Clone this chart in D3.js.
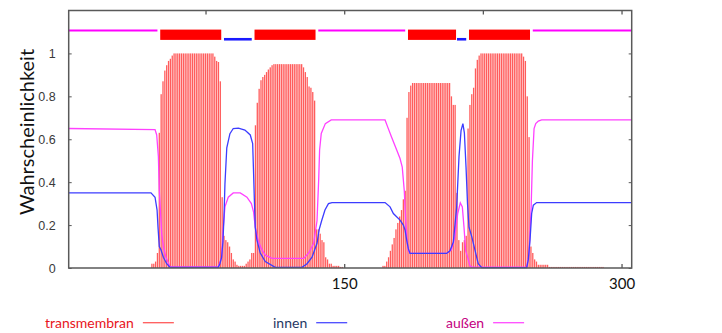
<!DOCTYPE html>
<html>
<head>
<meta charset="utf-8">
<script src="https://cdn.jsdelivr.net/npm/d3@7"></script>
<style>
  body { margin: 0; background: #fff; }
  svg { display: block; }
</style>
</head>
<body>
<svg id="chart" width="722" height="333"></svg>
<script>
// per-residue TM probability, residue 1..305
const transmembran = [
  0, 0, 0, 0, 0, 0, 0, 0, 0, 0,
  0, 0, 0, 0, 0, 0, 0, 0, 0, 0,
  0, 0, 0, 0, 0, 0, 0, 0, 0, 0,
  0, 0, 0, 0, 0, 0, 0, 0, 0, 0,
  0, 0, 0, 0, 0, 0.02, 0.02, 0.03, 0.07, 0.63,
  0.81, 0.87, 0.92, 0.945, 0.965, 0.975, 0.99, 1, 1, 1,
  1, 1, 1, 1, 1, 1, 1, 1, 1, 1,
  1, 1, 1, 1, 1, 1, 1, 1, 1, 0.985,
  0.965, 0.96, 0.87, 0.33, 0.15, 0.13, 0.12, 0.1, 0.07, 0.04,
  0.03, 0.015, 0.01, 0.01, 0.01, 0.01, 0.02, 0.03, 0.04, 0.07,
  0.07, 0.665, 0.77, 0.835, 0.875, 0.89, 0.9, 0.913, 0.925, 0.935,
  0.945, 0.95, 0.95, 0.95, 0.95, 0.95, 0.95, 0.95, 0.95, 0.95,
  0.95, 0.95, 0.95, 0.95, 0.95, 0.95, 0.95, 0.935, 0.913, 0.89,
  0.846, 0.84, 0.82, 0.78, 0.18, 0.18, 0.16, 0.13, 0.12, 0.05,
  0.04, 0.02, 0.02, 0.01, 0.01, 0.01, 0.01, 0.005, 0.005, 0,
  0, 0, 0, 0, 0, 0, 0, 0, 0, 0,
  0, 0, 0, 0, 0, 0, 0, 0, 0, 0,
  0.01, 0.01, 0.03, 0.05, 0.08, 0.11, 0.14, 0.18, 0.21, 0.24,
  0.27, 0.32, 0.36, 0.7, 0.82, 0.85, 0.862, 0.862, 0.862, 0.862,
  0.862, 0.862, 0.862, 0.862, 0.862, 0.862, 0.862, 0.862, 0.862, 0.862,
  0.862, 0.862, 0.862, 0.862, 0.862, 0.862, 0.862, 0.8, 0.76, 0.76,
  0.35, 0.13, 0.08, 0.12, 0.13, 0.15, 0.65, 0.76, 0.81, 0.84,
  0.93, 0.97, 0.99, 1, 1, 1, 1, 1, 1, 1,
  1, 1, 1, 1, 1, 1, 1, 1, 1, 1,
  1, 1, 1, 1, 1, 1, 0.985, 0.965, 0.8, 0.61,
  0.1, 0.07, 0.04, 0.03, 0.015, 0.015, 0.015, 0.015, 0.015, 0.015,
  0.005, 0.005, 0.005, 0.005, 0.005, 0.005, 0.005, 0.005, 0.005, 0.005,
  0.005, 0.005, 0.005, 0.005, 0.005, 0.005, 0.005, 0.005, 0.005, 0.005,
  0.005, 0.005, 0.005, 0.005, 0.005, 0.005, 0.005, 0.005, 0.005, 0.005,
  0, 0, 0, 0, 0, 0, 0, 0, 0, 0,
  0, 0, 0, 0, 0
];

// [residue, probability]
const innen = [
  [1, 0.35], [45.5, 0.35], [47.7, 0.33], [48.8, 0.27], [49.3, 0.19], [50, 0.1],
  [50.9, 0.085], [52.2, 0.05], [54, 0.02], [55.8, 0.003], [81.9, 0.003], [82.8, 0.02],
  [83.7, 0.05], [84.4, 0.12], [85, 0.24], [85.5, 0.39], [86.5, 0.56], [88.2, 0.626],
  [90, 0.65], [92.8, 0.652], [96.3, 0.643], [99.2, 0.62], [100.5, 0.58], [101, 0.44],
  [101.4, 0.32], [101.9, 0.19], [102.8, 0.13], [104.6, 0.07], [107.3, 0.03], [112.7, 0.003],
  [127.2, 0.003], [129.9, 0.02], [132.6, 0.05], [135.3, 0.115], [136.5, 0.18], [137.8, 0.22],
  [139.6, 0.27], [141.5, 0.3], [143.4, 0.305], [172.1, 0.305], [174.8, 0.285], [176.6, 0.254],
  [180.2, 0.223], [182, 0.2], [182.9, 0.177], [183.8, 0.13], [184.7, 0.09], [185.6, 0.068],
  [205.4, 0.068], [207.2, 0.08], [209, 0.12], [210.8, 0.28], [212.1, 0.52], [213.2, 0.64],
  [214.2, 0.673], [215, 0.63], [215.9, 0.47], [216.7, 0.3], [217.5, 0.19], [219, 0.146],
  [220.7, 0.084], [222.5, 0.02], [224.4, 0.002], [248.7, 0.002], [249.6, 0.04], [250.5, 0.13],
  [251.4, 0.254], [252.3, 0.293], [254.1, 0.305], [305.5, 0.305]
];

const aussen = [
  [1, 0.65], [47.7, 0.645], [48.6, 0.62], [49.5, 0.52], [50, 0.36], [50.8, 0.24],
  [51.3, 0.16], [52.2, 0.1], [53.6, 0.05], [55.8, 0.005], [81.9, 0.005], [83.7, 0.05],
  [84.6, 0.19], [85.5, 0.285], [87.3, 0.33], [90, 0.35], [93.8, 0.35], [97.4, 0.33],
  [99.8, 0.3], [101, 0.26], [101.9, 0.19], [103.4, 0.13], [105.2, 0.09], [107.3, 0.06],
  [111, 0.045], [128.1, 0.045], [130.8, 0.07], [133.5, 0.115], [135.3, 0.22], [136.2, 0.41],
  [136.7, 0.55], [137.6, 0.627], [139.8, 0.673], [143, 0.69], [172.1, 0.69], [173.4, 0.66],
  [175.6, 0.61], [178.4, 0.55], [180.2, 0.51], [181.4, 0.47], [182.5, 0.36], [183.3, 0.22],
  [184, 0.13], [184.7, 0.08], [185.6, 0.068], [205.4, 0.068], [208, 0.085], [209.9, 0.145],
  [211.4, 0.254], [212.8, 0.304], [213.9, 0.285], [214.8, 0.19], [215.7, 0.08], [216.8, 0.05],
  [218, 0.01], [219.1, 0.004], [248.7, 0.004], [250, 0.07], [251.1, 0.28], [251.8, 0.5],
  [252.7, 0.65], [253.6, 0.673], [255, 0.685], [256.8, 0.69], [305.5, 0.69]
];

// predicted topology: [start, end, type]
const topology = [
  [1, 49, "aussen"], [51, 83, "tm"], [85, 100, "innen"], [102, 134, "tm"],
  [136, 183, "aussen"], [185, 210, "tm"], [211, 216, "innen"], [218, 250, "tm"],
  [252, 305.5, "aussen"]
];

const yTicks = [0, 0.2, 0.4, 0.6, 0.8, 1];
const xTopTicks = [75, 150, 225, 300];
const xBottomTicks = [150, 300];
const legendItems = [
  { key: "transmembran", label: "transmembran", text: "#e8141c", line: "#ff5a5a" },
  { key: "innen", label: "innen", text: "#1f3864", line: "#4a4aff" },
  { key: "aussen", label: "außen", text: "#c4007f", line: "#ff4cff" }
];

const svg = d3.select("#chart");
const x = d3.scaleLinear().domain([1, 305.5]).range([68.7, 631.7]);
const y = d3.scaleLinear().domain([0, 1.2]).range([268, 10.5]);

// bars
svg.append("g")
  .selectAll("rect")
  .data(transmembran.map((v, i) => ({ r: i + 1, v })).filter(d => d.v > 0))
  .join("rect")
  .attr("x", d => x(d.r) - 0.65)
  .attr("width", 1.3)
  .attr("y", d => y(d.v))
  .attr("height", d => y(0) - y(d.v))
  .attr("fill", "#ff5c5c");

// probability lines
const line = d3.line().x(d => x(d[0])).y(d => y(d[1]));
svg.append("path").datum(aussen)
  .attr("d", line).attr("fill", "none")
  .attr("stroke", "#ff40ff").attr("stroke-width", 1.3);
svg.append("path").datum(innen)
  .attr("d", line).attr("fill", "none")
  .attr("stroke", "#3c3cff").attr("stroke-width", 1.3);

// topology bar on top
const topo = svg.append("g");
topology.forEach(([s, e, t]) => {
  if (t === "tm") {
    topo.append("rect")
      .attr("x", x(s - 0.5)).attr("width", x(e + 0.5) - x(s - 0.5))
      .attr("y", y(1.111)).attr("height", y(1.063) - y(1.111))
      .attr("fill", "#ff0000");
  } else {
    const v = t === "aussen" ? 1.107 : 1.066;
    topo.append("line")
      .attr("x1", x(s)).attr("x2", x(e))
      .attr("y1", y(v)).attr("y2", y(v))
      .attr("stroke", t === "aussen" ? "#ff00ff" : "#1a1aff")
      .attr("stroke-width", t === "aussen" ? 2 : 2.6);
  }
});

// frame and ticks
const axisColor = "#595959";
svg.append("rect")
  .attr("x", x(1)).attr("y", y(1.2))
  .attr("width", x(305.5) - x(1)).attr("height", y(0) - y(1.2))
  .attr("fill", "none").attr("stroke", axisColor).attr("stroke-width", 1.5);

const leftAxis = svg.append("g")
  .attr("transform", `translate(${x(1)},0)`)
  .call(d3.axisLeft(y).tickValues(yTicks).tickSize(-3).tickPadding(13)
    .tickFormat(d3.format("~g")));
leftAxis.select(".domain").remove();
leftAxis.selectAll("line").attr("stroke", axisColor);
leftAxis.selectAll("text")
  .attr("font-family", "'Liberation Sans', Arial, sans-serif")
  .attr("font-size", 12.5).attr("fill", "#3a3a3a");

const rightAxis = svg.append("g")
  .attr("transform", `translate(${x(305.5)},0)`)
  .call(d3.axisRight(y).tickValues(yTicks).tickSize(-3).tickFormat(""));
rightAxis.select(".domain").remove();
rightAxis.selectAll("line").attr("stroke", axisColor);

const topAxis = svg.append("g")
  .attr("transform", `translate(0,${y(1.2)})`)
  .call(d3.axisTop(x).tickValues(xTopTicks).tickSize(-4).tickFormat(""));
topAxis.select(".domain").remove();
topAxis.selectAll("line").attr("stroke", axisColor).attr("stroke-width", 1.3);

const bottomAxis = svg.append("g")
  .attr("transform", `translate(0,${y(0)})`)
  .call(d3.axisBottom(x).tickValues(xBottomTicks).tickSize(-4).tickPadding(10));
bottomAxis.select(".domain").remove();
bottomAxis.selectAll("line").attr("stroke", axisColor).attr("stroke-width", 1.3);
bottomAxis.selectAll("text")
  .attr("font-family", "Lato, 'Open Sans', sans-serif")
  .attr("font-size", 15).attr("fill", "#111");

// y label
svg.append("text")
  .attr("transform", "translate(34,132) rotate(-90)")
  .attr("text-anchor", "middle")
  .attr("font-family", "Lato, 'Open Sans', sans-serif")
  .attr("font-size", 20)
  .attr("fill", "#111")
  .text("Wahrscheinlichkeit");

// legend
const legendX = [45, 273, 446];
const legend = svg.append("g").attr("font-family", "Lato, 'Open Sans', sans-serif");
legendItems.forEach((item, i) => {
  const t = legend.append("text")
    .attr("x", legendX[i]).attr("y", 328)
    .attr("font-size", 14)
    .attr("fill", item.text)
    .text(item.label);
  const w = t.node().getComputedTextLength();
  legend.append("line")
    .attr("x1", legendX[i] + w + 9).attr("x2", legendX[i] + w + 40)
    .attr("y1", 322.7).attr("y2", 322.7)
    .attr("stroke", item.line).attr("stroke-width", 1.3);
});
</script>
</body>
</html>
